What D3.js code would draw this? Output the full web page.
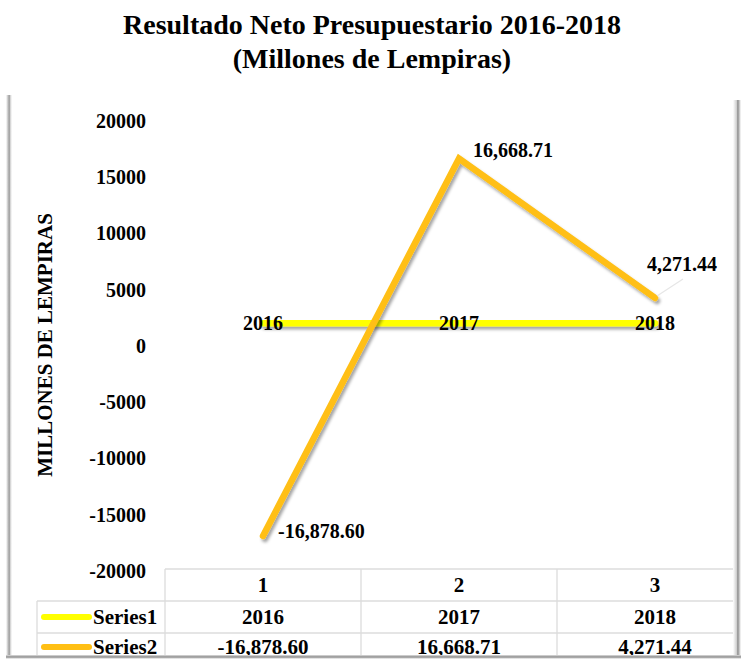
<!DOCTYPE html>
<html>
<head>
<meta charset="utf-8">
<script src="https://cdn.jsdelivr.net/npm/d3@7"></script>
<style>
  html, body { margin: 0; padding: 0; background: #fff; }
  svg { display: block; }
  text { font-family: "Liberation Serif", "Times New Roman", Times, serif; font-weight: bold; fill: #000; }
</style>
</head>
<body>
<svg id="chart" width="743" height="659"></svg>
<script>
// Categories shown along the table header
const categories = [1, 2, 3];
// Series values
const seriesNames = ["Series1", "Series2"];
const series1 = [2016, 2017, 2018];
const series2 = [-16878.60, 16668.71, 4271.44];
// Formatted labels for the data table / point labels
const series1Labels = ["2016", "2017", "2018"];
const series2Labels = ["-16,878.60", "16,668.71", "4,271.44"];
// Y axis ticks
const yTicks = [20000, 15000, 10000, 5000, 0, -5000, -10000, -15000, -20000];

const colors = { Series1: "#FFFF00", Series2: "#FFBF14" };
const FONT = "'Liberation Serif', 'Times New Roman', Times, serif";

const svg = d3.select("#chart");
const W = 743, H = 659;

// Drop shadow for the lines (user-space region so flat lines keep their area)
const defs = svg.append("defs");
const f = defs.append("filter").attr("id", "shadow")
  .attr("filterUnits", "userSpaceOnUse")
  .attr("x", 0).attr("y", 0).attr("width", W).attr("height", H);
f.append("feDropShadow").attr("dx", 2).attr("dy", 3).attr("stdDeviation", 1.8)
  .attr("flood-color", "#000").attr("flood-opacity", 0.35);

// Frame shading gradients
const gl = defs.append("linearGradient").attr("id", "gLeft").attr("x1", 0).attr("x2", 1).attr("y1", 0).attr("y2", 0);
gl.append("stop").attr("offset", "0%").attr("stop-color", "#ffffff");
gl.append("stop").attr("offset", "55%").attr("stop-color", "#9a9a9a");
gl.append("stop").attr("offset", "70%").attr("stop-color", "#cfcfcf");
gl.append("stop").attr("offset", "100%").attr("stop-color", "#ffffff");
const gr = defs.append("linearGradient").attr("id", "gRight").attr("x1", 0).attr("x2", 1).attr("y1", 0).attr("y2", 0);
gr.append("stop").attr("offset", "0%").attr("stop-color", "#ffffff");
gr.append("stop").attr("offset", "45%").attr("stop-color", "#cfcfcf");
gr.append("stop").attr("offset", "60%").attr("stop-color", "#8c8c8c");
gr.append("stop").attr("offset", "100%").attr("stop-color", "#ffffff");
const gb = defs.append("linearGradient").attr("id", "gBottom").attr("x1", 0).attr("x2", 0).attr("y1", 0).attr("y2", 1);
gb.append("stop").attr("offset", "0%").attr("stop-color", "#e0e0e0");
gb.append("stop").attr("offset", "50%").attr("stop-color", "#8c8c8c");
gb.append("stop").attr("offset", "100%").attr("stop-color", "#ffffff");

defs.append("clipPath").attr("id", "frameClip")
  .append("rect").attr("x", 11).attr("y", 0).attr("width", 724).attr("height", 656);

// Title
const title = svg.append("text").attr("text-anchor", "middle").attr("x", 372)
  .style("font-size", "28px").style("font-family", FONT);
title.append("tspan").attr("x", 372).attr("y", 34).text("Resultado Neto Presupuestario 2016-2018");
title.append("tspan").attr("x", 372).attr("y", 68).text("(Millones de Lempiras)");

// Scales
const x = d3.scaleBand().domain(categories).range([165, 753]).padding(0);
const cx = c => x(c) + x.bandwidth() / 2;
const y = d3.scaleLinear().domain([-20000, 20000]).range([571, 121]);

const g = svg.append("g").attr("clip-path", "url(#frameClip)");

// Y axis tick labels (no domain line, no tick marks; plain hyphen for negatives)
const yAxis = d3.axisLeft(y).tickValues(yTicks).tickSize(0).tickPadding(0).tickFormat(d => String(d));
const ax = g.append("g").attr("transform", "translate(146,0)").call(yAxis);
ax.select(".domain").remove();
ax.selectAll("text").style("font-size", "20px")
  .style("font-family", FONT).style("font-weight", "bold").attr("fill", "#000");

// Y axis title
g.append("text").attr("transform", "translate(52,345) rotate(-90)")
  .attr("text-anchor", "middle").style("font-size", "21px").style("font-family", FONT)
  .text("MILLONES DE LEMPIRAS");

// Lines
const line = d3.line().x((d, i) => cx(categories[i])).y(d => y(d));
const dataSets = [{ name: "Series1", values: series1 }, { name: "Series2", values: series2 }];
g.selectAll("path.series").data(dataSets).join("path")
  .attr("class", "series")
  .attr("d", d => line(d.values))
  .attr("fill", "none")
  .attr("stroke", d => colors[d.name])
  .attr("stroke-width", 6.5)
  .attr("stroke-linejoin", "miter")
  .attr("stroke-linecap", "round")
  .attr("filter", "url(#shadow)");

// Series1 point labels (centered on points)
g.selectAll("text.s1").data(series1).join("text").attr("class", "s1")
  .attr("x", (d, i) => cx(categories[i])).attr("y", d => y(d))
  .attr("dy", "0.35em").attr("text-anchor", "middle").style("font-size", "20px").style("font-family", FONT)
  .text((d, i) => series1Labels[i]);

// Series2 point labels (right of points)
const s2Offsets = [[15, -5], [14, -8], [-8, -34]];
// Leader line for the last label
g.append("line")
  .attr("x1", cx(categories[2]) + 2).attr("y1", y(series2[2]) - 2)
  .attr("x2", cx(categories[2]) + 28).attr("y2", y(series2[2]) - 19)
  .attr("stroke", "#e6e6e6").attr("stroke-width", 1.2);
g.selectAll("text.s2").data(series2).join("text").attr("class", "s2")
  .attr("x", (d, i) => cx(categories[i]) + s2Offsets[i][0])
  .attr("y", (d, i) => y(d) + s2Offsets[i][1])
  .attr("dy", "0.35em").attr("text-anchor", "start").style("font-size", "20px").style("font-family", FONT)
  .text((d, i) => series2Labels[i]);

// Data table
const tTop = 569, rowH = 32, tLeft = 37;
const grid = g.append("g").attr("stroke", "#dcdcdc").attr("stroke-width", 1.3);
grid.append("line").attr("x1", x(1)).attr("x2", 760).attr("y1", tTop).attr("y2", tTop);
grid.append("line").attr("x1", tLeft).attr("x2", 760).attr("y1", tTop + rowH).attr("y2", tTop + rowH);
grid.append("line").attr("x1", tLeft).attr("x2", 760).attr("y1", tTop + 2 * rowH).attr("y2", tTop + 2 * rowH);
grid.append("line").attr("x1", tLeft).attr("x2", tLeft).attr("y1", tTop + rowH).attr("y2", H);
categories.forEach(c => {
  grid.append("line").attr("x1", x(c)).attr("x2", x(c)).attr("y1", tTop).attr("y2", H);
});

g.selectAll("text.hdr").data(categories).join("text").attr("class", "hdr")
  .attr("x", d => cx(d)).attr("y", tTop + rowH / 2).attr("dy", "0.35em")
  .attr("text-anchor", "middle").style("font-size", "21px").style("font-family", FONT).text(d => d);

const rows = [series1Labels, series2Labels];
rows.forEach((labels, r) => {
  const ry = tTop + rowH * (r + 1) + rowH / 2 - (r === 1 ? 2 : 0);
  g.append("line").attr("x1", 44).attr("x2", 89).attr("y1", ry).attr("y2", ry)
    .attr("stroke", colors[seriesNames[r]]).attr("stroke-width", 6).attr("stroke-linecap", "round");
  g.append("text").attr("x", 93).attr("y", ry).attr("dy", "0.35em")
    .style("font-size", "21px").style("font-family", FONT).text(seriesNames[r]);
  labels.forEach((lab, i) => {
    g.append("text").attr("x", cx(categories[i])).attr("y", ry).attr("dy", "0.35em")
      .attr("text-anchor", "middle").style("font-size", "21px").style("font-family", FONT).text(lab);
  });
});

// Frame
svg.append("rect").attr("x", 6).attr("y", 95).attr("width", 6).attr("height", H - 95).attr("fill", "url(#gLeft)");
svg.append("rect").attr("x", 733).attr("y", 100).attr("width", 8).attr("height", H - 100).attr("fill", "url(#gRight)");
svg.append("rect").attr("x", 6).attr("y", 655).attr("width", 735).attr("height", 4).attr("fill", "url(#gBottom)");
</script>
</body>
</html>
